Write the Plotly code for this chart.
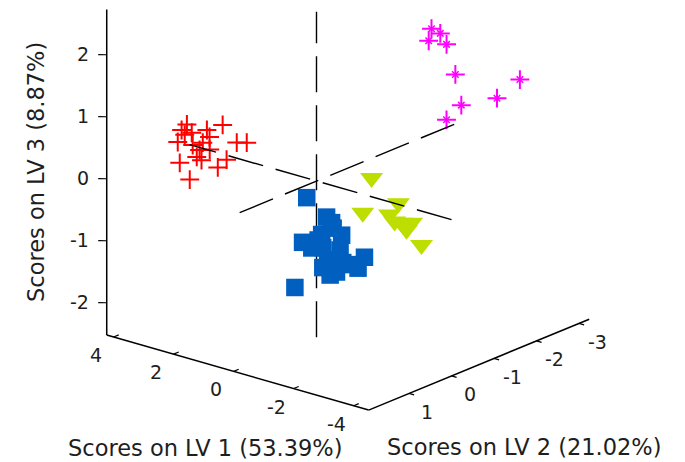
import numpy as np
import plotly.graph_objects as go

# ---------------- data: scores on latent variables, one set per class ----------------
red_lv1 = [2.42, 3.47, 3.93, 3.40, 4.20, 3.45, 2.52, 3.14, 2.94, 3.33, 3.00, 3.55, 3.85, 3.80, 2.44, 2.43, 1.95, 1.90, 2.71, 3.56]
red_lv2 = [0.5, 0.6, 0.4, 0.7, 0.3, 0.5, 0.8, 0.3, 0.6, 0.4, 0.7, 0.2, 0.5, 0.3, 0.6, 0.4, 0.5, 0.3, 0.6, 0.4]
red_lv3 = [0.71, 0.60, 0.39, 0.47, 0.13, 0.44, 0.70, 0.36, 0.38, 0.15, 0.17, -0.10, -0.10, -0.42, 0.05, 0.12, 0.49, 0.44, 0.30, 0.20]

mag_lv1 = [-1.00, -1.01, -1.19, -1.36, -1.37, -2.53, -1.71, -2.05, -1.50]
mag_lv2 = [-2.0, -2.2, -1.8, -2.1, -2.3, -3.0, -2.2, -2.8, -2.0]
mag_lv3 = [2.03, 1.90, 1.92, 1.80, 1.26, 1.14, 0.84, 0.83, 0.63]

grn_lv1 = [-2.12, -2.25, -2.73, -2.86, -2.69, -3.45, -3.64, -3.17, -3.00]
grn_lv2 = [0.2, 0.5, 0.0, 0.3, -0.1, 0.2, 0.1, 0.4, 0.0]
grn_lv3 = [0.40, -0.06, 0.02, -0.06, -0.33, -0.14, -0.50, -0.10, -0.37]

blu_lv1 = [-0.10, -0.13, -0.62, -1.07, -0.98, -0.88, 0.04, -0.41, -0.49, -1.08, -1.30, -1.74, -1.77, -0.95, -1.06,
           -0.98, -0.48, -1.21, -1.81, -0.88]
blu_lv2 = [0.3, 0.6, 0.2, 0.4, 0.1, 0.5, 0.3, 0.4, 0.2, 0.5, 0.3, 0.1, 0.4, 0.2, 0.6,
           0.3, 0.3, 0.3, 0.3, 0.3]
blu_lv3 = [-0.17, -1.53, -0.44, -0.41, -0.71, -0.60, -0.91, -0.91, -0.95, -0.98, -1.05, -0.96, -0.99, -1.28, -1.08,
           -0.54, -0.80, -0.86, -1.07, -1.31]

# axis limits and ticks
lv1_lim = (-4.5, 4.23)
lv2_lim = (-3.24, 1.95)
lv3_lim = (-2.52, 2.73)
lv1_ticks = [4, 2, 0, -2, -4]
lv2_ticks = [1, 0, -1, -2, -3]
lv3_ticks = [2, 1, 0, -1, -2]
lv1_title = "Scores on LV 1 (53.39%)"
lv2_title = "Scores on LV 2 (21.02%)"
lv3_title = "Scores on LV 3 (8.87%)"

# ---------------- orthographic 3-D view (screen pixels per unit) ----------------
O = (316.5, 181.0)
EX = (-30.0, -8.6)
EY = (-42.5, 17.5)
EZ = (0.0, -62.0)


def proj(x, y, z):
    x = np.asarray(x, float); y = np.asarray(y, float); z = np.asarray(z, float)
    return (O[0] + x * EX[0] + y * EY[0] + z * EZ[0],
            O[1] + x * EX[1] + y * EY[1] + z * EZ[1])


W, H = 685, 462
FONT = "DejaVu Sans"
TXT = "#1e1e1e"
fig = go.Figure()


def seg(p0, p1, dash="solid", width=1.5, color="black"):
    xs, ys = proj([p0[0], p1[0]], [p0[1], p1[1]], [p0[2], p1[2]])
    fig.add_trace(go.Scatter(x=xs, y=ys, mode="lines", hoverinfo="skip",
                             line=dict(color=color, width=width, dash=dash), showlegend=False))


x0, x1 = lv1_lim
y0, y1 = lv2_lim
z0, z1 = lv3_lim

# box axes
seg((x1, y1, z0), (x0, y1, z0))          # LV1 axis
seg((x0, y1, z0), (x0, y0, z0))          # LV2 axis
seg((x1, y1, z0), (x1, y1, z1))          # LV3 axis

# tick marks
for t in lv1_ticks:
    seg((t, y1, z0), (t, y1 - 0.12, z0), width=1.2)
for t in lv2_ticks:
    seg((x0, t, z0), (x0 - 0.17, t, z0), width=1.2)
for t in lv3_ticks:
    seg((x1, y1, t), (x1 + 0.17, y1 + 0.08, t), width=1.2)

DASH = "36px,13px"
# vertical origin line (beneath markers)
seg((0, 0, z0), (0, 0, z1), dash=DASH, width=1.4)

# markers
bx, by = proj(blu_lv1, blu_lv2, blu_lv3)
fig.add_trace(go.Scatter(x=bx, y=by, mode="markers", showlegend=False,
                         marker=dict(symbol="square", size=17.5, color="#005fbf", line=dict(width=0))))
gx, gy = proj(grn_lv1, grn_lv2, grn_lv3)
fig.add_trace(go.Scatter(x=gx, y=gy, mode="markers", showlegend=False,
                         marker=dict(symbol="triangle-down", size=20, color="#bedd00", line=dict(width=0))))
rx, ry = proj(red_lv1, red_lv2, red_lv3)
fig.add_trace(go.Scatter(x=rx, y=ry, mode="markers", showlegend=False,
                         marker=dict(symbol="cross-thin-open", size=13.5, color="#ff0000",
                                     line=dict(width=2, color="#ff0000"))))
mx, my = proj(mag_lv1, mag_lv2, mag_lv3)
fig.add_trace(go.Scatter(x=mx, y=my, mode="markers", showlegend=False,
                         marker=dict(symbol="cross-thin-open", size=13.5, color="#ff00ff",
                                     line=dict(width=2, color="#ff00ff"))))
fig.add_trace(go.Scatter(x=mx, y=my, mode="markers", showlegend=False, hoverinfo="skip",
                         marker=dict(symbol="x-thin-open", size=6.5, color="#ff00ff",
                                     line=dict(width=1.5, color="#ff00ff"))))

# LV1 / LV2 origin lines (on top)
seg((x0, 0, 0), (x1, 0, 0), dash=DASH, width=1.4)
seg((0, y0, 0), (0, y1, 0), dash=DASH, width=1.4)

ann = []
for t in lv1_ticks:
    px, py = proj(t, y1, z0)
    ann.append(dict(x=float(px) - 17.5, y=float(py) + 18, text=str(t), showarrow=False,
                    xanchor="center", yanchor="middle", font=dict(family=FONT, size=19, color=TXT)))
for t in lv2_ticks:
    px, py = proj(x0, t, z0)
    ann.append(dict(x=float(px) + 18, y=float(py) + 18.5, text=str(t), showarrow=False,
                    xanchor="center", yanchor="middle", font=dict(family=FONT, size=19, color=TXT)))
for t in lv3_ticks:
    px, py = proj(x1, y1, t)
    ann.append(dict(x=float(px) - 16, y=float(py) - 1, text=str(t), showarrow=False,
                    xanchor="right", yanchor="middle", font=dict(family=FONT, size=19, color=TXT)))

ann.append(dict(x=205, y=448, text=lv1_title, showarrow=False, xanchor="center", yanchor="middle",
                font=dict(family=FONT, size=22.5, color=TXT)))
ann.append(dict(x=524, y=447, text=lv2_title, showarrow=False, xanchor="center", yanchor="middle",
                font=dict(family=FONT, size=22.5, color=TXT)))
ann.append(dict(x=36, y=172, text=lv3_title, showarrow=False, xanchor="center", yanchor="middle",
                textangle=-90, font=dict(family=FONT, size=22.5, color=TXT)))

fig.update_layout(
    width=W, height=H, margin=dict(l=0, r=0, t=0, b=0),
    paper_bgcolor="white", plot_bgcolor="white", showlegend=False,
    xaxis=dict(range=[0, W], visible=False, fixedrange=True),
    yaxis=dict(range=[H, 0], visible=False, fixedrange=True),
    annotations=ann,
)
fig.write_html("out.html", config={"displayModeBar": False},
               post_script="document.body.style.margin='0px';document.body.style.overflow='hidden';")
